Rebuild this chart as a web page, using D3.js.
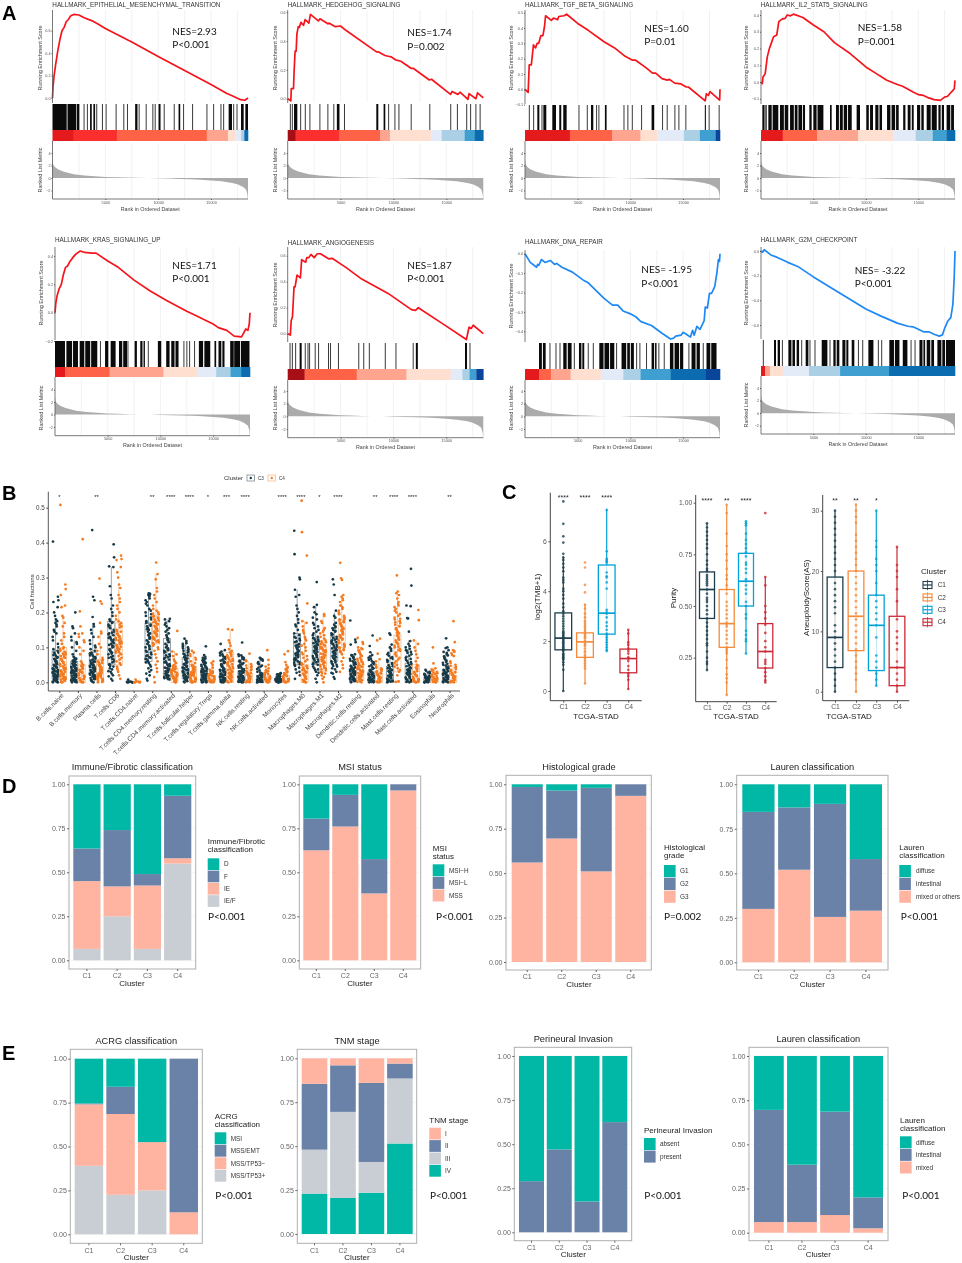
<!DOCTYPE html>
<html><head><meta charset="utf-8">
<style>html,body{margin:0;padding:0;background:#fff}svg{display:block;filter:blur(.25px)}text{font-family:"Liberation Sans",Arial,sans-serif}</style>
<script src="https://cdn.jsdelivr.net/npm/d3@7/dist/d3.min.js"></script>
</head><body><svg id="fig" width="962" height="1263"></svg>
<script>
// ---------- DATA: GSEA running enrichment scores [rank, score] ----------
const esEmt=[[0,0],[50,.1],[150,.2],[300,.3],[500,.42],[700,.52],[900,.6],[1100,.63],[1300,.68],[1500,.7],[1700,.73],[2000,.745],[2500,.74],[3000,.715],[3700,.69],[4300,.66],[5000,.62],[7500,.5],[10000,.37],[12500,.245],[15000,.12],[16500,.04],[17000,.02],[17800,-.015],[18200,-.02],[18500,0]];
const esHedgehog=[[0,0],[300,-.015],[340,.07],[550,.07],[600,.18],[700,.33],[800,.33],[870,.45],[1000,.5],[1100,.495],[1250,.53],[1500,.51],[1650,.55],[2000,.525],[2150,.585],[2900,.54],[3050,.555],[3800,.52],[3900,.525],[4500,.5],[5000,.505],[5500,.475],[8400,.325],[8600,.325],[9200,.3],[9500,.295],[9800,.29],[10200,.27],[10700,.26],[11700,.21],[11900,.21],[13400,.13],[13600,.135],[15400,.03],[15550,.05],[16100,.03],[16300,.045],[17050,-.005],[17150,.035],[17800,0],[17950,.04],[18500,.005]];
const esTgf=[[0,0],[300,-.02],[400,.16],[600,.16],[800,.29],[1000,.27],[1150,.3],[1300,.3],[1500,.35],[1700,.35],[1850,.41],[1950,.48],[2500,.45],[2700,.465],[3100,.455],[3200,.475],[3700,.48],[3950,.49],[5000,.43],[6000,.385],[7500,.31],[8500,.27],[9500,.215],[10200,.19],[10500,.19],[11500,.14],[12100,.105],[12400,.105],[13000,.07],[13500,.06],[13700,.065],[14200,.04],[14800,.035],[15300,.015],[15500,.015],[17100,-.075],[17200,-.03],[17400,-.04],[17550,-.015],[18470,-.07],[18500,0]];
const esIl2=[[0,0],[120,-.01],[200,.03],[400,.05],[600,.15],[800,.2],[1000,.235],[1200,.27],[1500,.28],[1700,.36],[2000,.375],[2300,.38],[2500,.4],[2800,.395],[3100,.405],[4000,.385],[5000,.34],[6000,.3],[7000,.235],[8500,.17],[10000,.09],[11000,.05],[12000,.01],[13000,-.015],[13500,-.025],[14500,-.06],[15000,-.075],[15500,-.08],[16000,-.095],[16500,-.105],[17100,-.11],[17500,-.09],[17800,-.085],[18000,-.07],[18300,-.05],[18430,-.04],[18500,.01]];
const esKras=[[0,0],[80,.07],[200,.12],[400,.17],[600,.2],[800,.27],[1000,.32],[1200,.33],[1400,.36],[1700,.39],[2000,.415],[2400,.435],[2800,.425],[3500,.42],[3900,.42],[5000,.365],[6000,.32],[7500,.23],[9000,.155],[10500,.09],[12500,.01],[13500,-.025],[15000,-.08],[15500,-.105],[16300,-.125],[17000,-.165],[17700,-.17],[18100,-.115],[18300,-.125],[18430,-.08],[18500,0]];
const esAngio=[[0,0],[250,-.01],[330,.1],[450,.13],[600,.36],[700,.36],[880,.45],[1200,.43],[1320,.57],[1700,.55],[1800,.585],[2000,.585],[2200,.61],[2500,.585],[2800,.615],[3100,.615],[3900,.575],[4200,.58],[5500,.51],[7000,.42],[9500,.31],[11700,.185],[12100,.18],[12350,.2],[14500,.085],[16900,-.045],[17150,.05],[17350,.04],[17550,.065],[18500,0]];
const esDna=[[0,0],[500,-.045],[1100,-.07],[1200,-.055],[1300,-.06],[1400,-.05],[1550,-.03],[1900,-.045],[2400,-.035],[2800,-.055],[3000,-.05],[3500,-.07],[4500,-.095],[5500,-.135],[6000,-.15],[7500,-.23],[8300,-.265],[8800,-.265],[9300,-.295],[10000,-.31],[10500,-.325],[11000,-.35],[12000,-.37],[13000,-.41],[13800,-.44],[14100,-.435],[14300,-.425],[14800,-.42],[15000,-.405],[15300,-.415],[15700,-.43],[15900,-.395],[16050,-.42],[16300,-.375],[16600,-.39],[17000,-.345],[17100,-.275],[17300,-.28],[17500,-.205],[17700,-.205],[18000,-.17],[18200,-.1],[18350,-.03],[18450,-.04],[18500,0]];
const esG2m=[[0,0],[150,-.01],[300,.01],[1000,-.035],[1500,-.05],[2500,-.09],[3500,-.125],[5000,-.21],[7500,-.34],[10000,-.47],[11500,-.53],[13000,-.585],[14000,-.61],[14500,-.615],[15000,-.635],[15500,-.655],[16000,-.655],[16500,-.675],[17000,-.69],[17300,-.68],[17500,-.63],[17800,-.57],[18100,-.54],[18300,-.43],[18430,-.2],[18500,0]];

// ---------- DATA: gene-set hit ranks, as [from, to] rank runs ----------
const hitsEmt=[[0,1343],[1420,2230],[2290,2543],[2986,2986],[3302,3302],[3555,3713],[3871,4029],[4187,4187],[4724,4724],[5072,5072],[6020,6020],[6747,6747],[7094,7094],[7821,8042],[8200,8200],[8864,8864],[9496,9496],[9717,9717],[10033,10223],[10571,10571],[11519,11519],[11929,12087],[12403,12403],[13256,13256],[14615,14615],[15247,15247],[15942,15942],[16195,16195],[16669,16985],[17143,17143],[17459,17459],[17838,18091],[18249,18500]];
const hitsHedgehog=[[250,250],[440,440],[600,910],[1225,1225],[1665,1665],[2100,2100],[3045,3045],[3800,3800],[4360,4360],[4650,4900],[5370,5370],[8380,8570],[9070,9230],[9545,9545],[10140,10140],[10520,10520],[11680,11680],[13440,13440],[15420,15420],[16050,16050],[16930,16930],[17300,17300],[17800,17800],[18200,18200]];
const hitsTgf=[[410,410],[820,820],[1170,1360],[1610,1610],[1740,2020],[2590,2940],[3250,3440],[3630,3950],[5120,5120],[5910,5910],[6260,6480],[6790,6790],[7010,7010],[7580,7740],[9390,9390],[9760,9760],[10180,10180],[11060,11060],[12010,12260],[13050,13050],[13490,13490],[14220,14220],[14600,14600],[15260,15260],[17060,17160],[17470,17470],[18420,18420]];
const hitsIl2=[[130,340],[420,540],[700,1020],[1110,1650],[1810,2180],[2260,2600],[2770,3130],[3220,3480],[3570,3920],[4000,4200],[4610,4830],[4990,5300],[5390,5950],[6580,6740],[7150,7430],[7520,7800],[7890,8210],[8300,8650],[9120,9440],[10040,10280],[10400,10680],[10900,11200],[11300,11540],[12020,12340],[12450,12790],[12880,13130],[13560,13770],[13990,14260],[14380,14560],[14880,15180],[15290,15520],[15800,16180],[16280,16760],[16920,17130],[17240,17450],[17700,18050],[18130,18400]];
const hitsKras=[[0,950],[1080,1620],[1710,2180],[2340,2780],[2870,3340],[3430,4010],[4310,4310],[4750,5060],[5280,5750],[6070,6380],[6470,6830],[6920,6920],[7550,7770],[8090,8300],[8400,8530],[8850,8850],[9760,10080],[10550,10870],[11030,11340],[11430,11720],[12230,12230],[12510,12510],[12770,12770],[13240,13240],[13650,14050],[14170,14730],[15130,15290],[15510,15780],[15880,16080],[16620,16960],[17000,17560],[17640,18450]];
const hitsAngio=[[220,220],[440,440],[750,750],[1130,1320],[1660,1660],[1920,1920],[2070,2070],[2600,2600],[2920,2920],[3860,3860],[4050,4050],[4800,4800],[6720,6720],[7190,7190],[7720,7720],[9230,9230],[10240,10240],[11870,11870],[12120,12310],[16770,16960],[17240,17240]];
const hitsDna=[[1330,1600],[1700,1960],[2370,2370],[2940,2940],[3320,3320],[3630,3950],[4060,4420],[4680,4680],[5120,5350],[5440,5620],[6000,6000],[6480,6480],[7050,7450],[7540,7980],[8070,8470],[8690,8690],[9160,9600],[9700,9950],[10040,10330],[10590,10590],[10900,10900],[11530,11530],[12010,12250],[12340,12480],[12700,12700],[13210,13210],[13750,14080],[14190,14620],[14710,15010],[15550,15550],[15800,16180],[16280,16590],[16910,16910],[17220,17580],[17670,18170]];
const hitsG2m=[[220,220],[1240,1430],[1590,1810],[2040,2040],[2610,2900],[3000,3240],[3400,3630],[3880,3880],[4260,4520],[4670,4670],[5150,5150],[5790,6330],[6580,6580],[6900,7120],[7220,7470],[7760,8050],[8140,8330],[8650,8900],[9290,9290],[9700,9700],[10240,10720],[11190,11190],[11510,11510],[12240,12680],[12770,13200],[13520,13960],[14310,14310],[14690,14690],[15110,15400],[15490,15650],[15800,16140],[16240,16500],[16820,17200],[17290,17550],[17640,18500]];

// ---------- DATA: colour-strip runs as [end rank, metric bin] ----------
const stripEmt=[[2000,1],[6100,2],[14600,3],[16600,4],[17300,5],[17850,6],[18150,7],[18500,9]];
const stripHedgehog=[[750,0],[4900,2],[8760,3],[9670,4],[13530,5],[14570,6],[16740,7],[17700,8],[18500,9]];
const stripTgf=[[4260,1],[8280,3],[10960,4],[12550,5],[15070,6],[16590,7],[18100,8],[18500,10]];
const stripIl2=[[2070,1],[5370,3],[9250,4],[12620,5],[14750,6],[16380,7],[17700,8],[18500,9]];
const stripKras=[[980,1],[5180,3],[10300,4],[13490,5],[15290,6],[16650,7],[17660,8],[18500,9]];
const stripAngio=[[1600,0],[6530,3],[11240,4],[15420,5],[16520,6],[17200,7],[17840,8],[18500,10]];
const stripDna=[[1330,1],[2460,3],[4330,4],[7200,5],[9320,6],[10960,7],[13810,8],[17160,9],[18500,10]];
const stripG2m=[[380,1],[860,4],[2070,5],[4580,6],[7540,7],[12210,8],[18500,9]];

// ---------- DATA: ranked list metric ----------
const rankedMetric=[[0,2.9],[50,2.2],[200,1.8],[500,1.4],[1000,1.05],[2000,.62],[3000,.42],[4000,.28],[5000,.18],[6000,.12],[7000,.07],[8000,.03],[9000,0],[10000,-.05],[11000,-.09],[12000,-.14],[13000,-.2],[14000,-.28],[15000,-.38],[16000,-.52],[17000,-.78],[17500,-1],[18000,-1.4],[18300,-1.8],[18430,-2.5],[18500,-3.6]];

// ---------- DATA: panel B, cell fractions (in hundredths) ----------
const cellTypes=["B.cells.naive","B.cells.memory","Plasma.cells","T.cells.CD8","T.cells.CD4.naive","T.cells.CD4.memory.resting","T.cells.CD4.memory.activated","T.cells.follicular.helper","T.cells.regulatory.Tregs","T.cells.gamma.delta","NK.cells.resting","NK.cells.activated","Monocytes","Macrophages.M0","Macrophages.M1","Macrophages.M2","Dendritic.cells.resting","Dendritic.cells.activated","Mast.cells.resting","Mast.cells.activated","Eosinophils","Neutrophils"];
const cellStars=["*","","**","","","**","****","****","*","***","****","","****","****","*","****","","**","****","****","","**"];
const cellBoxC3=[[1,3.5,9,18],[.5,3,6,12],[2,5,8.5,17],[5,10,17.5,33],[0,0,0,.3],[6,12,17,25.5],[1,5,12.5,18],[1,4,7,12.5],[0,2,4,8],[0,1.5,3.5,9],[0,1.5,3,8],[0,1,2,7],[0,.5,1,2.5],[5,9,14,26.5],[5,8,12.5,22],[6,9,13,20],[.5,2,4,8],[0,1,3,8.5],[0,1.5,4.5,10.5],[0,2,5.5,12],[0,0,1,2.5],[0,1,3.5,8.5]];
const cellBoxC4=[[1,4,10,19],[0,2,5,10],[1,3,6.5,14],[5,10,17,28],[0,0,0,.3],[11,15,19,31],[0,2,4,9],[0,2,4.5,9],[0,1,2,5],[0,3,8.5,15],[0,1,2.5,6],[0,.5,1.5,3.5],[0,1,2,5],[0,2,5,17.5],[3,6,10,19.5],[10,14,18,25],[.5,2,4.5,10],[0,1,2.5,6],[3,9,13.5,26],[0,1,5,12],[0,0,1,4],[0,.5,2,5]];
const cellC3=[
[40.3,24.5,23.5,23,21.5,20,19,18,17.5,17,16.5,16,15,14.5,14,13,12,11,10,9.5,9,8.5,8,7.5,7,6.5,6,5.5,5,4.6,4.3,4,3.8,3.5,3.2,3,2.8,2.5,2.2,2,1.8,1.5,1.3,1,.8,.6,.4,.2,0,0],
[20,16,15.5,14,13,12,11.5,11,10,9,8,7.3,7,6.6,6.3,6,5.7,5.4,5,4.7,4.4,4.2,4,3.7,3.4,3.2,3,2.8,2.5,2.2,2,1.8,1.5,1.2,1,.8,.6,.4,.2,0,0],
[43.6,24.5,23.5,18.7,16.7,16,15,14,13,12,11,10.5,10,9.5,9,8.5,8,7.5,7,6.5,6,5.8,5.5,5.2,5,4.7,4.4,4,3.8,3.5,3.2,3,2.7,2.4,2,1.7,1.4,1,.7,.4,0],
[39.5,35.8,33.2,33,27.5,25,24,22,21,20,19,18,17.5,17,16.5,16,15,14.5,14,13.5,13,12.5,12,11.5,11,10.5,10,9.5,9,8.5,8,7,6.5,6,5,4.5,4,3,2.5,2,1,.5],
[.8,.3,.2,.1,0,0,0],
[25.5,25.3,25,24.8,24,23,22,21,20,19,18.5,18,17,16.5,16,15.5,15,14,13.5,13,12.5,12,11,10.5,10,9,8.5,8,7.5,7,6.5,6,5.5,5,4,3,2,1,.5],
[18.2,18,17.5,17,16,15,14,13,12.5,12,11,10,9.5,9,8.5,8,7.5,7,6.5,6,5.5,5,4.5,4,3.5,3,2.5,2,1.7,1.5,1.2,1,.8],
[12.5,11.8,11,10.5,10,9.5,9,8.5,8,7.5,7,6.8,6.4,6,5.6,5.2,5,4.6,4.3,4,3.7,3.4,3,2.7,2.4,2,1.7,1.4,1.1,.8,.5,.2,0],
[10.3,7.8,7.3,6.8,6.3,5.8,5.4,5,4.6,4.2,3.8,3.5,3.2,3,2.7,2.4,2.2,2,1.8,1.6,1.4,1.2,1,.8,.6,.4,.2,0,0],
[11,9.2,8.8,8,7.5,7,6.5,6,5.5,5,4.5,4,3.6,3.3,3,2.7,2.4,2.1,1.8,1.5,1.3,1,.8,.6,.4,.2,0,0],
[11.4,8,7.5,7,6.5,6,5.5,5,4.5,4,3.6,3.2,3,2.7,2.4,2.1,1.8,1.6,1.4,1.2,1,.8,.6,.4,.2,0,0],
[7,6.8,6.5,5.8,5.2,4.5,3.8,3,2.4,2,1.7,1.4,1.2,1,.8,.7,.6,.5,.4,.3,.2,.1,0,0],
[2.6,2.3,2.1,1.9,1.7,1.5,1.3,1.1,1,.9,.8,.7,.6,.5,.4,.3,.2,.1,0,0],
[43.4,36.7,30,29.5,26.5,25,24.5,22,21,20,19,18,17,16.5,16,15,14,13,12.5,12,11.5,11,10.5,10,9.5,9,8.5,8,7.5,7,6.5,6,5.5,5,3,2,1],
[28.7,22.2,21.5,20,19.5,18.5,17,16,15,14,13,12.5,12,11.5,11,10.5,10,9.5,9,8.5,8,7.5,7,6.5,6,5.5,5,4,3.5,3,2,1,0],
[29.5,28,25,20.5,19,18.5,16,15.5,15,14.5,14,13.5,13,12.5,12,11.5,11,10.5,10,9.5,9,8.5,8,7.5,7,6.5,6,5.5,5,4.5,4,3,2.5,1.5,1],
[17.7,12.2,11.5,10.8,8,7.8,7.5,7,6.5,6,5.5,5,4.5,4.2,3.8,3.5,3.2,3,2.7,2.4,2.1,1.8,1.5,1.2,1,.8,.5,.3,0],
[13.4,10.4,8.6,7.8,7,6.4,5.8,5.2,4.6,4,3.6,3.2,2.8,2.5,2.2,2,1.8,1.5,1.2,1,.8,.6,.4,.2,0,0],
[14,13.6,10.8,10,9.6,9,8.4,7.6,7,6.4,5.8,5.2,4.6,4,3.6,3.2,2.8,2.4,2,1.7,1.4,1.1,.8,.5,.2,0],
[32.5,27.7,22,21.8,18.4,18.3,14.5,11.8,11,10.4,9.6,9,8.4,7.6,7,6.4,5.8,5.2,4.6,4,3.6,3.2,2.8,2.4,2,1.6,1.2,.8,.4,0],
[3.6,3.3,2.8,2.4,2.1,1.8,1.6,1.4,1.2,1,.9,.8,.7,.6,.5,.4,.3,.2,.1,0,0],
[12.6,10,9.8,8.4,8,7.4,6.8,6.2,5.6,5,4.5,4,3.6,3.2,2.8,2.5,2.2,1.9,1.6,1.3,1,.8,.6,.4,.2,0,0]];
const cellMoreC3=[
[8.5,7.8,7.2,6.7,6.1,5.6,5.2,4.8,4.4,4.1,3.7,3.3,3.1,2.9,2.6,2.3,2.1,1.9,1.6,1.4,1.1,.9,.7,.5,.3,.1],
[6.8,6.2,5.9,5.2,4.9,4.5,4.1,3.9,3.6,3.3,3.1,2.9,2.6,2.3,2.1,1.9,1.6,1.3,1.1,.9,.7,.5,.3,.1],
[8.2,7.7,7.2,6.7,6.2,5.9,5.6,5.3,4.9,4.5,4.2,3.9,3.6,3.3,3.1,2.8,2.5,2.2,1.9,1.6,1.2,.9,.6,.2],
[17.2,16.2,15.5,14.2,13.7,12.7,12.2,11.2,10.7,10.2,9.2,8.7,8.2,7.5,7.2,6.7,5.7,5.2,4.7,3.7,3.2,1.7],
[.1,.05,0],
[24.5,23.5,22.5,20.5,19.5,17.5,16.2,15.2,14.5,13.7,12.7,11.5,10.2,9.5,8.7,7.7,7.2,6.7,5.7,4.5,3.5,2.5],
[16.5,15.5,14.5,13.5,12.2,11.5,10.5,9.7,9.2,8.7,7.7,7.2,6.7,5.7,5.2,4.7,4.2,3.7,3.2,2.7,2.2,1.9,1.4,1.1,.9],
[11.2,10.2,9.7,9.2,8.7,8.2,7.7,7.2,6.6,6.2,5.8,5.4,4.8,4.4,4.1,3.8,3.5,3.2,2.8,2.5,2.2,1.9,1.5,1.2,.9,.6,.3],
[7,6.5,6,5.6,5.2,4.8,4.4,4,3.6,3.3,3.1,2.8,2.5,2.3,2.1,1.9,1.7,1.5,1.3,1.1,.9,.7,.5,.3,.1],
[8.4,7.7,7.2,6.7,6.2,5.7,5.2,4.7,4.2,3.8,3.4,3.1,2.8,2.5,2.2,1.9,1.6,1.4,1.1,.9,.7,.5,.3,.1],
[7.7,7.2,6.7,6.2,5.7,5.2,4.7,4.2,3.8,3.4,3.1,2.8,2.5,2.2,1.9,1.7,1.5,1.3,1.1,.9,.7,.5,.3,.1],
[6.6,6.2,5.5,4.8,4.2,3.4,2.8,2.5,2.1,1.9,1.6,1.3,1.1,.9,.7,.5,.3,.1],
[2.4,2.2,2,1.8,1.6,1.4,1.2,1,.9,.8,.7,.6,.5,.4,.3,.2,.1,.05],
[13.5,12.7,11.7,10.7,10.2,9.7,9.2,8.7,8.2,7.7,7.2,6.7,6.2,5.7,5.2,4.7,4.2,3.7,2.7],
[18,16.5,15.5,14.5,13.5,12.7,12.2,11.7,11.2,10.7,10.2,9.7,9.2,8.7,8.2,7.7,7.2,6.7,6.2,5.7,5.2,4.5,3.7,2.7],
[17,16.5,15.7,14.7,13.7,12.7,12.2,11.7,11.2,10.7,10.2,9.7,9.2,8.7,8.2,7.7,7.2,6.7,6.2,5.7,5.2,4.7,3.7,2.7],
[7.7,7.2,6.7,6.2,5.7,5.2,4.7,4.3,3.9,3.6,3.3,3.1,2.8,2.5,2.2,1.9,1.6,1.4,1.1,.9,.6,.4,.2],
[7.4,6.7,6.1,5.5,4.9,4.3,3.8,3.4,3,2.7,2.4,2.1,1.9,1.6,1.3,1.1,.9,.7,.5,.3,.1],
[8,7.2,6.7,6.1,5.5,4.9,4.3,3.8,3.4,3,2.6,2.2,1.9,1.6,1.3,1,.7,.5,.3,.1],
[10,9.2,8.7,8,7.3,6.7,6.1,5.5,4.9,4.3,3.8,3.4,3,2.6,2.2,1.8,1.4,1,.6,.3,.1],
[3,2.6,2.2,1.9,1.7,1.5,1.3,1.1,.9,.7,.5,.3,.1,.05],
[9.2,8.7,7.7,7.1,6.5,5.9,5.3,4.8,4.2,3.8,3.4,3,2.7,2.4,2.1,1.8,1.5,1.2,.9,.7,.5,.3,.1]];
const cellC4=[
[50.8,28,26.7,25,22,21.5,19,18.5,17,16,14,13,12,11,10,9.5,9,8.5,8,7.5,7,6.5,6,5.5,5,4.5,4,3.6,3.2,2.8,2.4,2,1.7,1.4,1,.7,.4,0,0],
[41,20.3,16,14,13.8,13,12,11.5,10,9,8,6,5.5,5,4.6,4.2,3.8,3.4,3,2.7,2.4,2.1,1.8,1.5,1.2,.9,.6,.3,0,0],
[29.7,23.2,22.5,17,14.5,14,13,11,10,9,8,7,6.5,6,5.5,5,4.5,4,3.5,3,2.7,2.4,2.1,1.8,1.5,1.2,.9,.6,.3,0],
[36.3,35.3,35,33,31.5,30,28,27,25,24,23,22,21,20,19,18,17,16,15,14.5,14,13.5,13,12.5,12,11.5,11,10.5,10,9.5,9,8.5,8,7,6,5,4,3,2,1],
[.8,.3,.2,0,0,0],
[34.3,31,29.5,27,26,25,24,23,22,21,20,19.5,19,18.5,18,17.5,17,16.5,16,15.5,15,14.5,14,13.5,13,12.5,12,11.5,11,10,9,8,7,6,5,4,3,1.5,0],
[14.7,8.8,8,7.5,6.5,6,5.5,5,4.5,4,3.7,3.4,3,2.8,2.5,2.2,2,1.8,1.5,1.2,1,.8,.5,.2,0,0],
[9,8.5,8,7.5,7,6.5,6,5.5,5,4.5,4,3.7,3.4,3,2.7,2.4,2.1,1.8,1.5,1.2,1,.8,.5,.2,0,0],
[6,5.5,5,4.2,3.6,3,2.6,2.2,1.9,1.6,1.3,1,.8,.6,.4,.2,0,0],
[15.2,15,12,11.3,10.5,9,8.6,8,7.5,7,6.5,6,5.5,5,4.5,4,3.5,3,2.6,2.2,1.8,1.4,1,.6,.2,0],
[8.2,6.3,6,5.2,4.6,4,3.4,2.8,2.4,2,1.7,1.4,1.1,.8,.5,.2,0,0],
[9.2,6.4,5,4.5,3.6,3.2,2.6,2.2,1.8,1.5,1.2,1,.8,.6,.4,.2,0,0],
[8.9,8,5.8,5,4.4,3.8,3.4,3,2.6,2.2,1.9,1.6,1.3,1,.8,.6,.4,.2,0,0],
[52,43,36.3,22.6,17.5,17,15,14,13,12,11,10,9,8,7,6,5.5,5,4.5,4,3.5,3,2.5,2,1.5,1,.5,0,0],
[19.5,19,17.5,17,15,14,13,12,11.5,11,10.5,10,9.5,9,8.5,8,7.5,7,6.5,6,5.5,5,4.5,4,3.5,3,2.5,2,1,0],
[34.2,29.8,29.3,25,24.5,24,23.5,23,22,21,20,19.5,19,18.5,18,17.5,17,16.5,16,15.5,15,14.5,14,13.5,13,12.5,12,11.5,11,10.5,10,9.5,9,8.5,8,7,6,5,4,3],
[12.7,11.5,11,10,9.5,9,8.5,8,7.5,7,6.5,6,5.5,5,4.6,4.2,3.8,3.4,3,2.6,2.2,1.8,1.4,1,.6,.2,0],
[12.5,12,8.2,6.6,6,4.4,4,3.6,3.2,2.8,2.4,2,1.7,1.4,1.1,.8,.5,.2,0,0],
[30.6,26,25,24,23,22,21,20,19,18.5,18,17.5,17,16.5,16,15.5,15,14.5,14,13.5,13,12.5,12,11.5,11,10.5,10,9.5,9,8,7,6,5,4,3,2,.3,.2,.1],
[20.7,17.8,12,11,10,9,8,7,6,5,4,3,2.5,2,1.5,1.2,1,.8,.6,.4,.2,0,0],
[10,5.4,4,3.7,3.3,3,2.6,2.2,1.8,1.5,1.2,.9,.6,.3,0,0],
[17.5,11.5,9.2,9,8.7,8.3,7.8,7.5,6,5.5,5,4.4,3.6,3,2.6,2.2,1.9,1.6,1.3,1,.7,.4,.2,0,0]];
const cellMoreC4=[
[9.7,8.7,8.2,7.7,7.2,6.7,6.2,5.7,5.2,4.7,4.2,3.8,3.4,3,2.6,2.2,1.9,1.5,1.1,.8,.5,.2],
[4.8,4.4,4,3.6,3.2,2.9,2.5,2.2,1.9,1.6,1.3,1,.7,.4,.1],
[6.2,5.7,5.2,4.7,4.2,3.7,3.2,2.9,2.5,2.2,1.9,1.6,1.3,1,.7,.4,.1],
[17.5,16.5,15.7,14.7,13.7,13.2,12.7,12.2,11.7,11.2,10.7,10.2,9.7,9.2,8.7,8.2,7.5,6.5,5.5,4.5,3.5],
[.1,.05,0],
[20.5,19.7,18.7,18.2,17.7,17.2,16.7,16.2,15.7,15.2,14.7,14.2,13.7,13.2,12.7,12.2,11.7,11.2,10.5,9.5],
[4.7,4.2,3.8,3.4,3.1,2.7,2.4,2.1,1.9,1.6,1.3,1.1,.9,.7,.3,.1],
[4.8,4.3,3.9,3.5,3.2,2.9,2.6,2.3,2,1.6,1.3,1.1,.9,.6,.3,.1],
[3.2,2.8,2.4,2.1,1.8,1.5,1.2,.9,.7,.5,.3,.1],
[9.5,8.2,7.7,7.2,6.7,6.2,5.7,5.2,4.7,4.2,3.7,3.2,2.8,2.4,2,1.6,1.2,.8,.4,.1],
[4.8,4.3,3.7,3.1,2.6,2.2,1.9,1.6,1.3,1,.7,.4,.1],
[4,3.3,2.9,2.4,2,1.7,1.4,1.1,.9,.7,.5,.3,.1],
[4.1,3.6,3.2,2.8,2.4,2.1,1.8,1.5,1.2,.9,.7,.5,.3,.1],
[16,14.5,12.5,10.5,8.5,7.5,6.5,5.2,4.7,4.2,3.7,3.2,2.7,2.2,1.7,1.2,.7,.2],
[15.5,14.5,13.5,12.5,11.7,11.2,10.7,10.2,9.7,9.2,8.7,8.2,7.7,7.2,6.7,6.2,5.7,5.2,4.7,4.2,3.7,2.7,1.5],
[22,21.5,20.5,19.7,18.7,18.2,17.7,17.2,16.7,16.2,15.7,15.2,14.7,14.2,13.7,13.2,12.7,12.2,11.7,11.2,10.7,10.2,9.7,9.2,8.7],
[9.7,9.2,8.7,7.7,6.7,6.2,5.7,5.2,4.8,4.4,4,3.6,3.2,2.8,2.4,2,1.6,1.2,.8,.4,.1],
[5,4.2,3.7,3.3,2.9,2.5,2.1,1.8,1.5,1.2,.9,.6,.3,.1],
[25.5,22.5,21.5,20.5,19.5,18.2,17.2,16.2,15.2,14.2,13.2,12.2,11.2,10.2,9.2,8.5,7.5,6.5,5.5,4.5,3.5],
[4.7,4.2,3.7,3.2,2.7,2.2,1.7,1.1,.9,.7,.5,.3,.1],
[3.5,2.8,2.4,2,1.6,1.3,1,.7,.4,.1],
[4.7,4.2,3.8,3.2,2.8,2.4,2.1,1.8,1.5,1.2,.9,.6,.3,.1]];

// ---------- DATA: panel C ----------
const clusters=["C1","C2","C3","C4"];
const tmbBox=[[1.65,2.12,3.13,0,5.4],[1.35,1.97,2.33,.3,3.5],[2.28,3.12,5.05,1.6,7.3],[.73,1.3,1.68,.08,2.45]];
const tmbStars=["****","****","****",""];
const tmbC1=[7.6,6.7,6.2,5.95,5.5,5.35,5.25,5.1,4.95,4.8,4.55,4.45,4.35,4.1,4,3.85,3.7,3.5,3.35,3.2,3.1,3,2.9,2.8,2.7,2.6,2.5,2.4,2.35,2.3,2.25,2.2,2.15,2.1,2.05,2,1.95,1.9,1.85,1.8,1.75,1.7,1.65,1.6,1.5,1.45,1.4,1.35,1.3,1.25,1.15,1.05,.85,0];
const tmbC2=[5.15,4.95,4.25,3.95,3.45,3.3,3.1,2.95,2.8,2.7,2.6,2.5,2.4,2.3,2.25,2.2,2.15,2.1,2,1.97,1.9,1.85,1.8,1.7,1.6,1.55,1.45,1.4,1.3,1.2,1.1,1,.9,.3];
const tmbC3=[7.25,5.6,5.3,5.25,5.2,5.15,4.75,4.6,4.55,4.35,4.1,3.25,3.15,3.1,2.95,2.75,2.6,2.45,2.3,2.25,2.15,2.05,1.95,1.85,1.75,1.65,1.6];
const tmbC4=[2.45,2.3,1.95,1.85,1.7,1.6,1.5,1.35,1.3,1.2,1,.85,.7,.6,.45,.08];
const purityBox=[[.44,.58,.665,.19,.9],[.30,.415,.58,.07,.99],[.5,.62,.755,.27,.91],[.2,.28,.415,.13,.64]];
const purityStars=["****","**","****",""];
const purityC1=[.9,.88,.86,.84,.82,.8,.78,.75,.72,.7,.68,.67,.65,.64,.63,.62,.61,.6,.58,.56,.54,.53,.52,.5,.48,.46,.44,.42,.4,.38,.36,.34,.32,.31,.28,.25,.23,.22,.19];
const purityC2=[.99,.95,.85,.79,.75,.72,.68,.65,.63,.6,.58,.56,.52,.5,.48,.46,.44,.42,.41,.4,.38,.36,.34,.32,.3,.29,.28,.27,.24,.2,.17,.15,.13,.07];
const purityC3=[.91,.9,.89,.85,.82,.8,.78,.76,.74,.71,.7,.68,.66,.63,.62,.6,.58,.56,.52,.5,.46,.44,.38,.36,.34,.33,.27];
const purityC4=[.95,.64,.6,.5,.47,.44,.41,.37,.33,.3,.28,.24,.23,.22,.2,.18,.16,.14,.13];
const aneuBox=[[4,9,19,0,30],[6.8,12.5,20,0,31],[3.5,11,16,1,30],[1,4,12.5,0,24]];
const aneuStars=["**","**","*",""];
const aneuC1=[30,29,28,27,26,25,24,23,22,21,20,18,17,16,15,14,13,11,10,9,8,7,6,5,4,3,2,1,0];
const aneuC2=[31,30,29,28,26,25,24,23,22,21,20,19,18,17,16,15,14,13,12,11,10,9,8,7,6,5,4,3,2,0];
const aneuC3=[30,25,24,22,21,20,18,16,15,14,13,12,11,9,6,5,4,3,2,1];
const aneuC4=[24,21,20,19,17,15,12,10,9,8,7,5,4,3,2,1,0];

// ---------- DATA: stacked proportion panels (series top-down) ----------
const immuneNames=["D","F","IE","IE/F"];
const immuneD=[.365,.26,.51,.065],immuneF=[.185,.32,.065,.355],immuneIE=[.385,.17,.36,.03],immuneIEF=[.065,.25,.065,.55];
const msiNames=["MSI\u2212H","MSI\u2212L","MSS"];
const msiH=[.195,.06,.425,0],msiL=[.18,.18,.195,.035],msiS=[.625,.76,.38,.965];
const gradeNames=["G1","G2","G3"];
const gradeG1=[.015,.035,.02,0],gradeG2=[.425,.27,.47,.065],gradeG3=[.56,.695,.51,.935];
const laurenNames=["diffuse","intestinal","mixed or others"];
const laurenDiffuse=[.155,.13,.11,.42],laurenIntestinal=[.545,.35,.635,.29],laurenMixed=[.30,.52,.255,.29];
const acrgNames=["MSI","MSS/EMT","MSS/TP53\u2212","MSS/TP53+"];
const acrgMsi=[.255,.16,.475,0],acrgEmt=[.005,.155,0,.875],acrgNeg=[.35,.46,.275,.125],acrgPos=[.39,.225,.25,0];
const tnmNames=["I","II","III","IV"];
const tnmI=[.145,.04,.14,.03],tnmII=[.375,.265,.45,.085],tnmIII=[.25,.49,.175,.37],tnmIV=[.23,.205,.235,.515];
const pniNames=["absent","present"];
const pniAbsent=[.71,.53,.825,.375],pniPresent=[.29,.47,.175,.625];
const lauren2Names=["diffuse","intestinal","mixed"];
const lauren2Diffuse=[.305,.615,.315,.8],lauren2Intestinal=[.635,.325,.585,.175],lauren2Mixed=[.06,.06,.1,.025];

// ---------- STYLE ----------
const svg=d3.select("#fig");
const binColors=["#a50f15","#e41a1c","#fb2f2e","#ff6347","#ffa48e","#ffdfd0","#e3ebf8","#abd0e6","#3f9fd0","#0b6cb0","#08459b"];
const binScale=d3.scaleOrdinal().domain(d3.range(11)).range(binColors);
const TEAL="#00b8a5",SLATE="#6b82a8",SALMON="#ffb3a1",GREY="#c9ced4";
const clusterColors=["#1b3f4d","#f58b3b","#00a3d7","#cc2936"];
const C3DOT="#183a46",C4DOT="#f47b20";
const txt=(g,x,y,s,size,o={})=>g.append("text").attr("x",x).attr("y",y).text(s).attr("font-size",size).attr("fill",o.fill||"#222").attr("text-anchor",o.anchor||"start").attr("font-weight",o.weight||null).style("font-family",o.family||null).attr("transform",o.rot!=null?`rotate(${o.rot},${x},${y})`:null);
function ticksStyle(sel,size,color){sel.select(".domain").remove();sel.selectAll("text").attr("font-size",size).attr("fill",color).style("font-family",'"Liberation Sans"');sel.selectAll("line").attr("stroke",color);}

// ---------- PANEL A ----------
function gsea(p,curve,hits,strip,color){
  const g=svg.append("g");
  const x=d3.scaleLinear().domain([0,18500]).range([p.x0,p.x1]);
  const yEs=d3.scaleLinear().domain(p.esD).range(p.esR);
  const yM=d3.scaleLinear().domain([4,-2]).range(p.mR);
  const grid=d3.range(2500,18500,2500);
  g.selectAll(".ga").data(grid).join("line").attr("x1",x).attr("x2",x).attr("y1",p.esTop).attr("y2",p.rugTop-2).attr("stroke","#ececec").attr("stroke-width",.7);
  g.selectAll(".gb").data(grid).join("line").attr("x1",x).attr("x2",x).attr("y1",p.stripBot+2).attr("y2",p.bot).attr("stroke","#ececec").attr("stroke-width",.7);
  const area=d3.area().x(d=>x(d[0])).y0(yM(0)).y1(d=>yM(d[1]));
  g.append("path").datum(rankedMetric).attr("d",area).attr("fill","#ababab");
  g.append("path").datum(curve).attr("d",d3.line().x(d=>x(d[0])).y(d=>yEs(d[1]))).attr("fill","none").attr("stroke",color).attr("stroke-width",1.7).attr("stroke-linejoin","round");
  g.selectAll(".hit").data(hits).join("rect").attr("x",d=>x(d[0])-(d[0]===d[1]?.5:0)).attr("width",d=>Math.max(x(d[1])-x(d[0]),1)).attr("y",p.rugTop).attr("height",p.stripTop-p.rugTop).attr("fill",d=>d[0]===d[1]?"#3a3a3a":"#0a0a0a");
  g.selectAll(".st").data(strip).join("rect").attr("x",(d,i)=>x(i?strip[i-1][0]:0)).attr("width",(d,i)=>x(d[0])-x(i?strip[i-1][0]:0)+.3).attr("y",p.stripTop).attr("height",p.stripBot-p.stripTop).attr("fill",d=>binScale(d[1]));
  const line=(x1,y1,x2,y2)=>g.append("line").attr("x1",x1).attr("y1",y1).attr("x2",x2).attr("y2",y2).attr("stroke","#555").attr("stroke-width",.8);
  line(p.x0,p.esTop,p.x0,p.rugTop-1);line(p.x0,p.stripBot,p.x0,p.bot);line(p.x0,p.bot,p.x1,p.bot);
  g.append("g").attr("transform",`translate(${p.x0},0)`).call(d3.axisLeft(yEs).tickValues(p.esT).tickFormat(d3.format(".1f")).tickSize(1).tickPadding(1)).call(ticksStyle,3.8,"#555");
  g.append("g").attr("transform",`translate(${p.x0},0)`).call(d3.axisLeft(yM).tickValues([-2,0,2,4]).tickFormat(d=>d<0?"\u2212"+(-d):d).tickSize(1).tickPadding(1)).call(ticksStyle,3.8,"#555");
  g.append("g").attr("transform",`translate(0,${p.bot})`).call(d3.axisBottom(x).tickValues([5000,10000,15000]).tickFormat(d=>d).tickSize(1).tickPadding(1)).call(ticksStyle,3.8,"#555");
  txt(g,p.tx,p.ty,p.title,6.35,{fill:"#333"});
  txt(g,p.yl,p.esC,"Running Enrichment Score",5.45,{anchor:"middle",rot:-90,fill:"#444"});
  txt(g,p.yl,p.mC,"Ranked List Metric",5.45,{anchor:"middle",rot:-90,fill:"#444"});
  txt(g,(p.x0+p.x1)/2,p.bot+11.5,"Rank in Ordered Dataset",5.35,{anchor:"middle",fill:"#444"});
  txt(g,p.nx,p.ny1,p.nes,10,{family:"Lato",fill:"#111"});
  txt(g,p.nx,p.ny2,p.pv,10,{family:"Lato",fill:"#111"});
}
const RED="#f6141c",BLUE="#1e88f5";
const row1={rugTop:104,stripTop:130,stripBot:141,bot:199,esTop:10,mR:[153,190.5]};
gsea({...row1,x0:52.5,x1:248,esD:[0,.6],esR:[98,30.7],esT:[0,.2,.4,.6],tx:52.3,ty:7,title:"HALLMARK_EPITHELIAL_MESENCHYMAL_TRANSITION",yl:41.5,esC:58,mC:170,nx:172.3,ny1:35,ny2:48.3,nes:"NES=2.93",pv:"P<0.001"},esEmt,hitsEmt,stripEmt,RED);
gsea({...row1,x0:287.7,x1:483.3,esD:[0,.6],esR:[98.7,12.3],esT:[0,.2,.4,.6],tx:287.7,ty:7,title:"HALLMARK_HEDGEHOG_SIGNALING",yl:277,esC:58,mC:170,nx:407.3,ny1:36.3,ny2:50,nes:"NES=1.74",pv:"P=0.002"},esHedgehog,hitsHedgehog,stripHedgehog,RED);
gsea({...row1,x0:525,x1:720,rugTop:105,esD:[0,.5],esR:[89.3,12.7],esT:[-.1,0,.1,.2,.3,.4,.5],tx:525,ty:7,title:"HALLMARK_TGF_BETA_SIGNALING",yl:513,esC:58,mC:170,nx:644.3,ny1:32.3,ny2:45,nes:"NES=1.60",pv:"P=0.01"},esTgf,hitsTgf,stripTgf,RED);
gsea({...row1,x0:761,x1:955,rugTop:105,esD:[0,.4],esR:[82,15],esT:[-.1,0,.1,.2,.3,.4],tx:760.7,ty:7,title:"HALLMARK_IL2_STAT5_SIGNALING",yl:748,esC:58,mC:170,nx:857.7,ny1:31.3,ny2:45,nes:"NES=1.58",pv:"P=0.001"},esIl2,hitsIl2,stripIl2,RED);
gsea({x0:55,x1:250,esTop:247,rugTop:341,stripTop:367,stripBot:377,bot:435.7,mR:[389.7,427],esD:[0,.4],esR:[312.7,256],esT:[-.2,0,.2,.4],tx:55,ty:242.3,title:"HALLMARK_KRAS_SIGNALING_UP",yl:43,esC:293,mC:408,nx:172.3,ny1:269,ny2:282,nes:"NES=1.71",pv:"P<0.001"},esKras,hitsKras,stripKras,RED);
gsea({x0:287.7,x1:483.3,esTop:247,rugTop:343,stripTop:369,stripBot:380,bot:437.7,mR:[391,429],esD:[0,.6],esR:[333.7,255.7],esT:[0,.2,.4,.6],tx:287.7,ty:244.7,title:"HALLMARK_ANGIOGENESIS",yl:276.5,esC:295,mC:408,nx:407.3,ny1:269,ny2:282,nes:"NES=1.87",pv:"P<0.001"},esAngio,hitsAngio,stripAngio,RED);
gsea({x0:525,x1:720,esTop:250,rugTop:343,stripTop:369,stripBot:380,bot:437.7,mR:[391,429],esD:[0,-.4],esR:[253.7,331.3],esT:[-.4,-.3,-.2,-.1,0],tx:525,ty:244.3,title:"HALLMARK_DNA_REPAIR",yl:513,esC:296,mC:408,nx:641.3,ny1:273.3,ny2:287,nes:"NES= -1.95",pv:"P<0.001"},esDna,hitsDna,stripDna,BLUE);
gsea({x0:761,x1:955,esTop:247,rugTop:340,stripTop:366,stripBot:376,bot:434,mR:[388,425.7],esD:[0,-.6],esR:[251,325],esT:[-.6,-.4,-.2,0],tx:760.7,ty:241.7,title:"HALLMARK_G2M_CHECKPOINT",yl:748,esC:293,mC:405,nx:854.7,ny1:274.3,ny2:287,nes:"NES= -3.22",pv:"P<0.001"},esG2m,hitsG2m,stripG2m,BLUE);

// ---------- PANEL B ----------
(function(){
  const g=svg.append("g");
  const x=d3.scalePoint().domain(cellTypes).range([59.3,449.5]);
  const y=d3.scaleLinear().domain([0,.5]).range([682.3,507.7]);
  const jitter=[-.9,.4,-.2,.8,-.6,.1,.95,-.4,.55,-.75,.25,-.05,.7,-1,.35,-.5];
  const dodge=3.7,jw=2.9;
  cellTypes.forEach((c,i)=>{
    [[cellBoxC3[i],cellC3[i].concat(cellMoreC3[i]),-dodge,C3DOT,"#7d8c95"],[cellBoxC4[i],cellC4[i].concat(cellMoreC4[i]),dodge,C4DOT,"#f6b98a"]].forEach(([b,vals,off,col,bc])=>{
      const cx=x(c)+off;
      g.append("line").attr("x1",cx).attr("x2",cx).attr("y1",y(b[3]/100)).attr("y2",y(b[0]/100)).attr("stroke",bc).attr("stroke-width",.8);
      g.append("rect").attr("x",cx-3.5).attr("width",7).attr("y",y(b[2]/100)).attr("height",y(b[0]/100)-y(b[2]/100)).attr("fill","none").attr("stroke",bc).attr("stroke-width",.8);
      g.selectAll(null).data(vals).join("circle").attr("cx",(d,k)=>cx+jitter[(k*3+i)%jitter.length]*jw).attr("cy",d=>y(d/100)).attr("r",1.35).attr("fill",col);
    });
    if(cellStars[i])txt(g,x(c),498.5,cellStars[i],6,{anchor:"middle",fill:"#222"});
  });
  const L=(a,b,c,d)=>g.append("line").attr("x1",a).attr("y1",b).attr("x2",c).attr("y2",d).attr("stroke","#444").attr("stroke-width",.9);
  L(48.3,491.7,48.3,691);L(48.3,691,460,691);
  g.append("g").attr("transform","translate(48.3,0)").call(d3.axisLeft(y).tickValues([0,.1,.2,.3,.4,.5]).tickFormat(d3.format(".1f")).tickSize(2).tickPadding(1.5)).call(ticksStyle,6.3,"#444");
  const ax=g.append("g").attr("transform","translate(0,691)").call(d3.axisBottom(x).tickSize(2).tickPadding(2)).call(ticksStyle,6.4,"#444");
  ax.selectAll("text").attr("text-anchor","end").attr("dy",".4em").attr("dx","-.1em").attr("transform","rotate(-45)");
  txt(g,34.5,591.7,"Cell fractions",6,{anchor:"middle",rot:-90,fill:"#333"});
  txt(g,224,480,"Cluster",6,{fill:"#333"});
  [[247,"C3",C3DOT,"#7d8c95"],[268,"C4",C4DOT,"#f6b98a"]].forEach(([kx,s,c,bc])=>{
    g.append("rect").attr("x",kx).attr("y",475).attr("width",7.5).attr("height",6).attr("fill","#fff").attr("stroke",bc).attr("stroke-width",.8);
    g.append("circle").attr("cx",kx+3.75).attr("cy",478).attr("r",1.2).attr("fill",c);
    txt(g,kx+11,480,s,4.6,{fill:"#333"});
  });
})();

// ---------- PANEL C ----------
function boxPanel(p,boxes,lists,stars,title){
  const g=svg.append("g");
  const x=d3.scaleOrdinal().domain(clusters).range(p.cx);
  const y=d3.scaleLinear().domain(p.d).range(p.r);
  clusters.forEach((c,i)=>{
    const cx=x(c),b=boxes[i],col=clusterColors[i],w=p.bw;
    g.append("line").attr("x1",cx).attr("x2",cx).attr("y1",y(b[3])).attr("y2",y(b[4])).attr("stroke",col).attr("stroke-width",1.2);
    g.append("rect").attr("x",cx-w/2).attr("width",w).attr("y",y(b[2])).attr("height",y(b[0])-y(b[2])).attr("fill","#fff").attr("stroke",col).attr("stroke-width",1.3);
    g.append("line").attr("x1",cx).attr("x2",cx).attr("y1",y(b[2])).attr("y2",y(b[0])).attr("stroke",col).attr("stroke-width",.6).attr("opacity",.5);
    g.selectAll(null).data(lists[i]).join("circle").attr("cx",cx).attr("cy",d=>y(d)).attr("r",1.35).attr("fill",col).attr("opacity",.8);
    g.append("line").attr("x1",cx-w/2).attr("x2",cx+w/2).attr("y1",y(b[1])).attr("y2",y(b[1])).attr("stroke",col).attr("stroke-width",1.7);
    if(stars[i])txt(g,cx,p.sy,stars[i],7,{anchor:"middle",fill:"#222"});
  });
  const L=(a,b,c,d)=>g.append("line").attr("x1",a).attr("y1",b).attr("x2",c).attr("y2",d).attr("stroke","#444").attr("stroke-width",1);
  L(p.ax,p.top,p.ax,p.base);L(p.ax,p.base,p.right,p.base);
  g.append("g").attr("transform",`translate(${p.ax},0)`).call(d3.axisLeft(y).tickValues(p.t).tickFormat(p.f).tickSize(2).tickPadding(1.5)).call(ticksStyle,6.8,"#555");
  g.append("g").attr("transform",`translate(0,${p.base})`).call(d3.axisBottom(x).tickSize(2).tickPadding(1.5)).call(ticksStyle,6.8,"#555");
  txt(g,p.xc,718.5,"TCGA-STAD",8,{anchor:"middle",fill:"#222"});
  txt(g,p.yl,p.yc,title,8,{anchor:"middle",rot:-90,fill:"#222"});
}
boxPanel({cx:[563.3,585,606.7,628.3],d:[0,6],r:[691,541.3],bw:16.7,sy:500,ax:550.3,top:492.7,base:700.7,right:641.7,t:[0,2,4,6],f:d=>d,xc:596,yl:540,yc:596.7},tmbBox,[tmbC1,tmbC2,tmbC3,tmbC4],tmbStars,"log2(TMB+1)");
boxPanel({cx:[707,726.7,746,765.3],d:[.25,1],r:[657.7,502.7],bw:15,sy:503,ax:695.7,top:495,base:701.7,right:776.7,t:[.25,.5,.75,1],f:d3.format(".2f"),xc:736,yl:676,yc:598},purityBox,[purityC1,purityC2,purityC3,purityC4],purityStars,"Purity");
boxPanel({cx:[835,856,876.3,897],d:[0,30],r:[691.7,510.7],bw:15.7,sy:503,ax:822.7,top:495,base:700.7,right:909.3,t:[0,10,20,30],f:d=>d,xc:849,yl:809.5,yc:597.7},aneuBox,[aneuC1,aneuC2,aneuC3,aneuC4],aneuStars,"AneuploidyScore(AS)");
(function(){
  const g=svg.append("g");
  txt(g,921,574,"Cluster",8,{fill:"#222"});
  clusters.forEach((c,i)=>{
    const yy=585+i*12.4,col=clusterColors[i];
    g.append("rect").attr("x",923).attr("y",yy-3.5).attr("width",9).attr("height",7).attr("fill","#fff").attr("stroke",col).attr("stroke-width",1.1);
    g.append("line").attr("x1",927.5).attr("x2",927.5).attr("y1",yy-5.2).attr("y2",yy+5.2).attr("stroke",col).attr("stroke-width",.8);
    g.append("line").attr("x1",923).attr("x2",932).attr("y1",yy).attr("y2",yy).attr("stroke",col).attr("stroke-width",1.2);
    txt(g,937.7,yy+2.2,c,6.4,{fill:"#333"});
  });
})();

// ---------- PANELS D, E ----------
function stacked(p,title,names,values,fills,legendLines,pv){
  const g=svg.append("g");
  const table=clusters.map((c,i)=>{const o={c};names.forEach((n,k)=>o[n]=values[k][i]);return o;});
  const series=d3.stack().keys(names.slice().reverse())(table);
  const y=d3.scaleLinear().domain([0,1]).range([p.y0,p.y1]);
  const x=d3.scaleBand().domain(clusters).range([p.bl,p.br]).paddingInner(.1).paddingOuter(0);
  const color=d3.scaleOrdinal().domain(names).range(fills);
  g.append("rect").attr("x",p.fl).attr("y",p.ft).attr("width",p.fr-p.fl).attr("height",p.fb-p.ft).attr("fill","#fff");
  g.selectAll(".gl").data([0,.25,.5,.75,1]).join("line").attr("x1",p.fl).attr("x2",p.fr).attr("y1",y).attr("y2",y).attr("stroke","#efefef").attr("stroke-width",.6);
  g.selectAll(".s").data(series).join("g").attr("fill",d=>color(d.key)).selectAll("rect").data(d=>d).join("rect")
    .attr("x",d=>x(d.data.c)).attr("width",x.bandwidth()).attr("y",d=>y(d[1])).attr("height",d=>y(d[0])-y(d[1]));
  g.append("rect").attr("x",p.fl).attr("y",p.ft).attr("width",p.fr-p.fl).attr("height",p.fb-p.ft).attr("fill","none").attr("stroke","#aeaeae").attr("stroke-width",1);
  g.append("g").attr("transform",`translate(${p.fl},0)`).call(d3.axisLeft(y).tickValues([0,.25,.5,.75,1]).tickFormat(d3.format(".2f")).tickSize(2).tickPadding(1.5)).call(ticksStyle,7,"#666");
  g.append("g").attr("transform",`translate(0,${p.fb})`).call(d3.axisBottom(x).tickSize(2).tickPadding(2.5)).call(ticksStyle,7,"#666");
  txt(g,p.tc,p.ty,title,9.25,{anchor:"middle",fill:"#222"});
  txt(g,p.xc,p.fb+16.5,"Cluster",8,{anchor:"middle",fill:"#222"});
  legendLines.forEach((s,i)=>txt(g,p.lx,p.ly+i*8.4,s,8,{fill:"#222"}));
  names.forEach((n,i)=>{
    g.append("rect").attr("x",p.lx).attr("y",p.ky+i*p.ks).attr("width",11.6).attr("height",p.ks-.6).attr("fill",color(n));
    txt(g,p.lb,p.ky+i*p.ks+p.ks/2+2,n,6.4,{fill:"#333"});
  });
  txt(g,p.px,p.py,pv,10,{family:"Lato",fill:"#111"});
}
const rowD={y0:960.3,y1:784.3,ft:776,fb:969};
const rowE={ft:1049.3,fb:1243.3};
stacked({...rowD,fl:69,fr:195.7,bl:73.3,br:191.3,tc:132.3,ty:770,xc:132,lx:207.7,ly:844,ky:858.3,ks:12.3,lb:224,px:208,py:920},"Immune/Fibrotic classification",immuneNames,[immuneD,immuneF,immuneIE,immuneIEF],[TEAL,SLATE,SALMON,GREY],["Immune/Fibrotic","classification"],"P<0.001");
stacked({...rowD,fl:299.3,fr:420.7,bl:303.3,br:416.3,tc:360,ty:770,xc:360,lx:432.7,ly:850.5,ky:864.3,ks:12.6,lb:449,px:436,py:920},"MSI status",msiNames,[msiH,msiL,msiS],[TEAL,SLATE,SALMON],["MSI","status"],"P<0.001");
stacked({y0:962,y1:784.3,ft:775.3,fb:970,fl:506,fr:651.3,bl:511.7,br:646.3,tc:579,ty:770,xc:579,lx:664,ly:850,ky:865,ks:12.8,lb:680,px:664,py:920},"Histological grade",gradeNames,[gradeG1,gradeG2,gradeG3],[TEAL,SLATE,SALMON],["Histological","grade"],"P=0.002");
stacked({y0:962.3,y1:784.3,ft:775.3,fb:970,fl:736.7,fr:888,bl:742.3,br:882,tc:812.3,ty:770,xc:812.3,lx:899.3,ly:850,ky:865,ks:12.8,lb:916,px:900.7,py:920},"Lauren classification",laurenNames,[laurenDiffuse,laurenIntestinal,laurenMixed],[TEAL,SLATE,SALMON],["Lauren","classification"],"P<0.001");
stacked({...rowE,y0:1234.3,y1:1058.7,fl:70.3,fr:202.3,bl:74.7,br:198,tc:136.3,ty:1044,xc:136.3,lx:214.7,ly:1118.5,ky:1132.3,ks:12.5,lb:230.7,px:215.3,py:1199},"ACRG classification",acrgNames,[acrgMsi,acrgEmt,acrgNeg,acrgPos],[TEAL,SLATE,SALMON,GREY],["ACRG","classification"],"P<0.001");
stacked({...rowE,y0:1234,y1:1058.3,fl:297.3,fr:416.7,bl:301.7,br:412.7,tc:357,ty:1044,xc:357,lx:429.3,ly:1122.5,ky:1127.7,ks:12.4,lb:445,px:430,py:1199},"TNM stage",tnmNames,[tnmI,tnmII,tnmIII,tnmIV],[SALMON,SLATE,GREY,TEAL],["TNM stage"],"P<0.001");
stacked({ft:1047.3,fb:1240.7,y0:1232.3,y1:1056,fl:514.3,fr:631.7,bl:519,br:627.3,tc:573.3,ty:1041.5,xc:573.3,lx:644,ly:1132.5,ky:1138,ks:12.6,lb:660,px:644.3,py:1198.5},"Perineural Invasion",pniNames,[pniAbsent,pniPresent],[TEAL,SLATE],["Perineural Invasion"],"P<0.001");
stacked({ft:1047.3,fb:1240.7,y0:1232.7,y1:1056,fl:749,fr:888,bl:754,br:883,tc:818.3,ty:1041.5,xc:818.3,lx:900,ly:1122.5,ky:1136.3,ks:12.6,lb:916,px:902.3,py:1198.5},"Lauren classification",lauren2Names,[lauren2Diffuse,lauren2Intestinal,lauren2Mixed],[TEAL,SLATE,SALMON],["Lauren","classification"],"P<0.001");

// ---------- panel letters ----------
[["A",2,19.5],["B",2,499.5],["C",502,498.5],["D",2,792.5],["E",2,1059.5]].forEach(([s,x,y])=>txt(svg,x,y,s,20,{weight:700,fill:"#000"}));
</script></body></html>
